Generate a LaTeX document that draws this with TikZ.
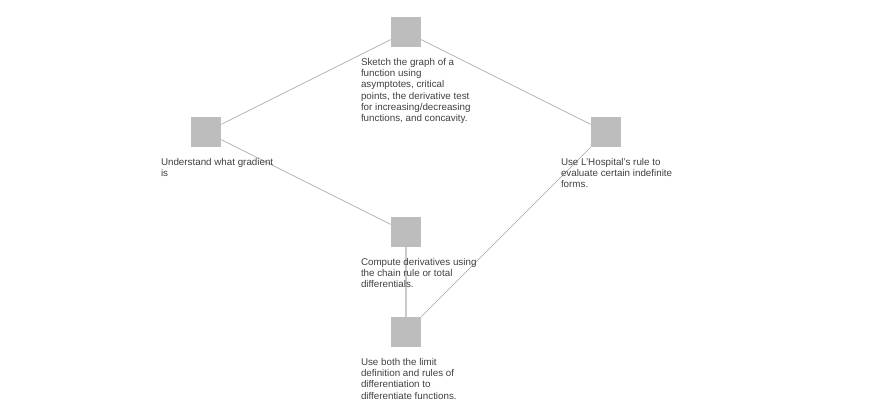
\documentclass[tikz,border=0pt]{standalone}
\usepackage{fontspec}
\setmainfont{Liberation Sans}
\usetikzlibrary{positioning,backgrounds}
\definecolor{boxgray}{HTML}{BDBDBD}
\definecolor{linegray}{HTML}{B4B4B4}
\definecolor{textgray}{HTML}{404040}

\def\boxsize{30pt}
\def\gap{11pt}

\begin{document}
\begin{tikzpicture}[x=1pt, y=-1pt,
  topic/.style = {fill=boxgray, draw=none, minimum size=\boxsize, inner sep=0pt},
  blurb/.style = {inner sep=0pt, align=left, text=textgray,
                  font=\fontsize{9.8}{11.2}\selectfont},
  link/.style  = {draw=linegray, line width=0.7pt}]
  \useasboundingbox (0,0) rectangle (879,412);

  % squares
  \node[topic] (sketch)   at (406,32)  {};
  \node[topic] (gradient) at (206,132) {};
  \node[topic] (hospital) at (606,132) {};
  \node[topic] (chain)    at (406,232) {};
  \node[topic] (limit)    at (406,332) {};

  % descriptions
  \node[blurb, below right=\gap and -\boxsize of sketch.south west]
    {Sketch the graph of a\\function using\\asymptotes, critical\\points, the derivative test\\for increasing/decreasing\\functions, and concavity.};
  \node[blurb, below right=\gap and -\boxsize of gradient.south west]
    {Understand what gradient\\is};
  \node[blurb, below right=\gap and -\boxsize of hospital.south west]
    {Use L'Hospital's rule to\\evaluate certain indefinite\\forms.};
  \node[blurb, below right=\gap and -\boxsize of chain.south west]
    {Compute derivatives using\\the chain rule or total\\differentials.};
  \node[blurb, below right=\gap and -\boxsize of limit.south west]
    {Use both the limit\\definition and rules of\\differentiation to\\differentiate functions.};

  \begin{scope}[on background layer]
    \foreach \a/\b in {sketch/gradient, sketch/hospital, gradient/chain}
      \draw[link] (\a) -- (\b);
    \draw[link, draw=boxgray!80, line width=1.5pt] (chain) -- (limit);
    \draw[link, line width=0.5pt, draw=linegray!90!black] (hospital) -- (limit);
  \end{scope}
\end{tikzpicture}
\end{document}
